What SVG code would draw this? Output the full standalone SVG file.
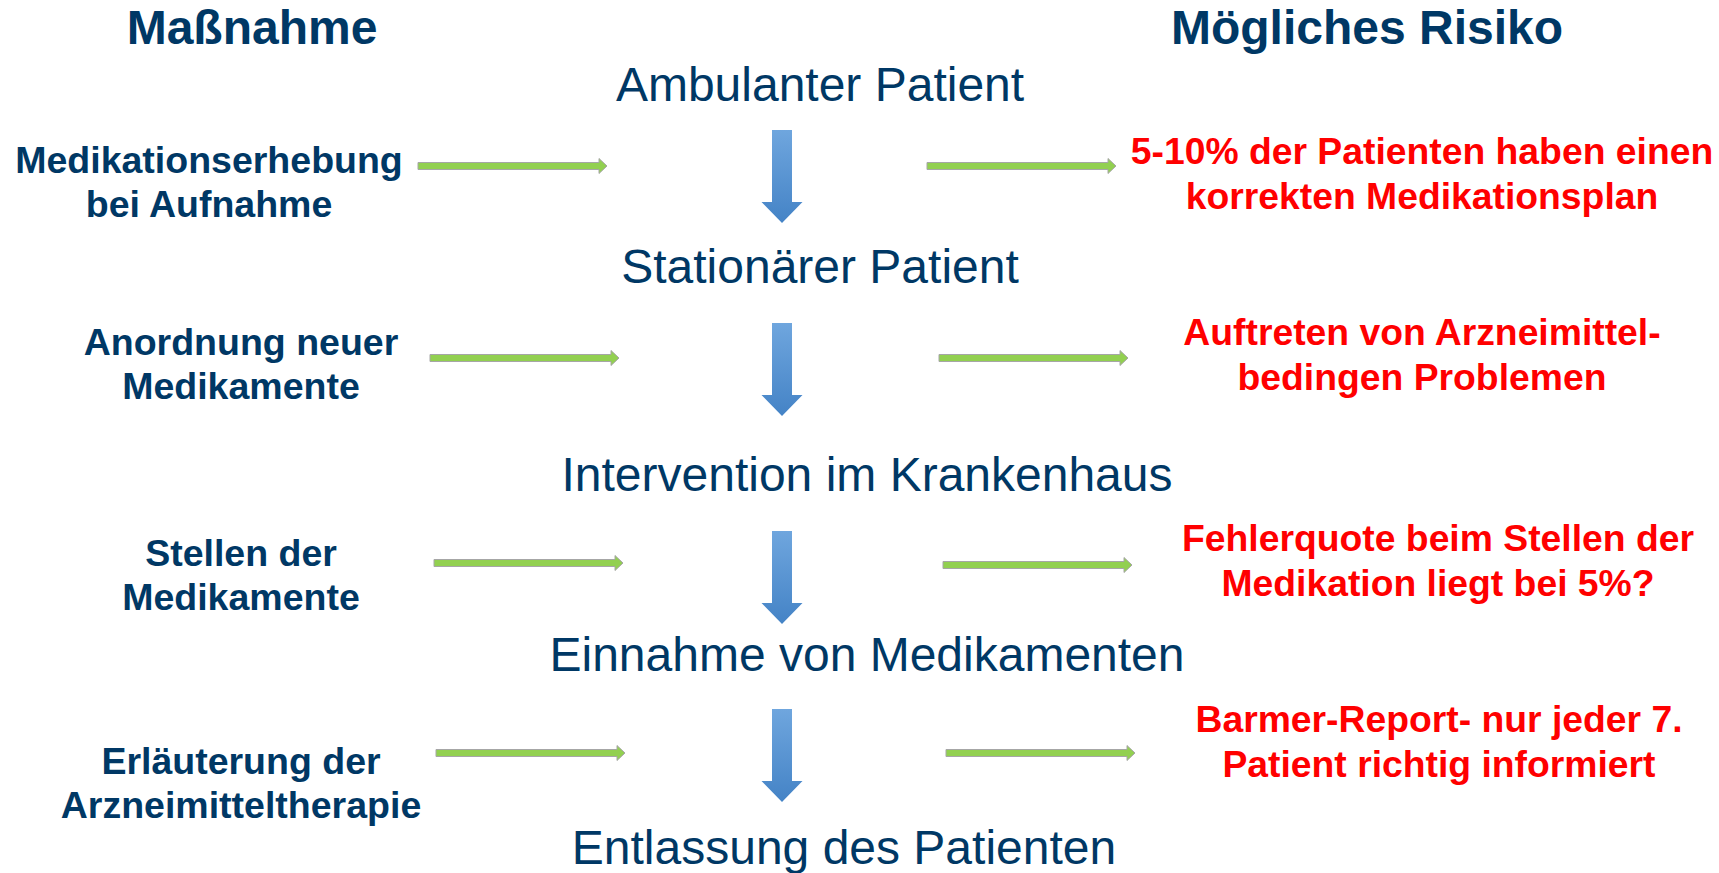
<svg xmlns="http://www.w3.org/2000/svg" width="1719" height="873" viewBox="0 0 1719 873">
  <style>
    .hd { font-family: "Liberation Sans", Arial, sans-serif; font-weight: bold; font-size: 48px; fill: #003865; text-anchor: middle; }
    .st { font-family: "Liberation Sans", Arial, sans-serif; font-size: 48px; fill: #003865; text-anchor: middle; }
    .lt { font-family: "Liberation Sans", Arial, sans-serif; font-weight: bold; font-size: 37.5px; fill: #003865; text-anchor: middle; }
    .rt { font-family: "Liberation Sans", Arial, sans-serif; font-weight: bold; font-size: 37.3px; fill: #FF0000; text-anchor: middle; }
    .ga { fill: #92D050; stroke: #A6A6A6; stroke-width: 1; }
    .ba { fill: url(#blueGrad); }
  </style>
  <defs>
    <linearGradient id="blueGrad" x1="0" y1="0" x2="0" y2="1">
      <stop offset="0" stop-color="#6FA6DE"/>
      <stop offset="1" stop-color="#4483C6"/>
    </linearGradient>
    <path id="green" class="ga" d="M0,-3.5 H181 V-7.5 L189,0 L181,7.5 V3.5 H0 Z"/>
    <path id="blue" class="ba" d="M-10,0 H10 V72 H20.5 L0,93 L-20.5,72 H-10 Z"/>
  </defs>

  <rect width="1719" height="873" fill="#FFFFFF"/>

  <g id="headings">
    <text class="hd" x="252" y="44">Maßnahme</text>
    <text class="hd" x="1367" y="44">Mögliches Risiko</text>
  </g>

  <g id="stage-ambulant"><text class="st" x="820" y="101">Ambulanter Patient</text></g>
  <g id="stage-stationaer"><text class="st" x="820" y="283">Stationärer Patient</text></g>
  <g id="stage-intervention"><text class="st" x="867" y="491">Intervention im Krankenhaus</text></g>
  <g id="stage-einnahme"><text class="st" x="867" y="671">Einnahme von Medikamenten</text></g>
  <g id="stage-entlassung"><text class="st" x="844" y="864">Entlassung des Patienten</text></g>

  <g id="measure-1"><text class="lt" x="209" y="173">Medikationserhebung</text><text class="lt" x="209" y="217">bei Aufnahme</text></g>
  <g id="measure-2"><text class="lt" x="241" y="355">Anordnung neuer</text><text class="lt" x="241" y="399">Medikamente</text></g>
  <g id="measure-3"><text class="lt" x="241" y="566">Stellen der</text><text class="lt" x="241" y="610">Medikamente</text></g>
  <g id="measure-4"><text class="lt" x="241" y="774">Erläuterung der</text><text class="lt" x="241" y="818">Arzneimitteltherapie</text></g>

  <g id="risk-1"><text class="rt" x="1422" y="164">5-10% der Patienten haben einen</text><text class="rt" x="1422" y="209">korrekten Medikationsplan</text></g>
  <g id="risk-2"><text class="rt" x="1422" y="345">Auftreten von Arzneimittel-</text><text class="rt" x="1422" y="390">bedingen Problemen</text></g>
  <g id="risk-3"><text class="rt" x="1438" y="551">Fehlerquote beim Stellen der</text><text class="rt" x="1438" y="596">Medikation liegt bei 5%?</text></g>
  <g id="risk-4"><text class="rt" x="1439" y="732">Barmer-Report- nur jeder 7.</text><text class="rt" x="1439" y="777">Patient richtig informiert</text></g>

  <g id="connectors">
    <use href="#blue" x="782" y="130"/>
    <use href="#blue" x="782" y="323"/>
    <use href="#blue" x="782" y="531"/>
    <use href="#blue" x="782" y="709"/>
    <use href="#green" x="418" y="166"/>
    <use href="#green" x="430" y="358"/>
    <use href="#green" x="434" y="563"/>
    <use href="#green" x="436" y="753"/>
    <use href="#green" x="927" y="166"/>
    <use href="#green" x="939" y="358"/>
    <use href="#green" x="943" y="565"/>
    <use href="#green" x="946" y="753"/>
  </g>
</svg>
